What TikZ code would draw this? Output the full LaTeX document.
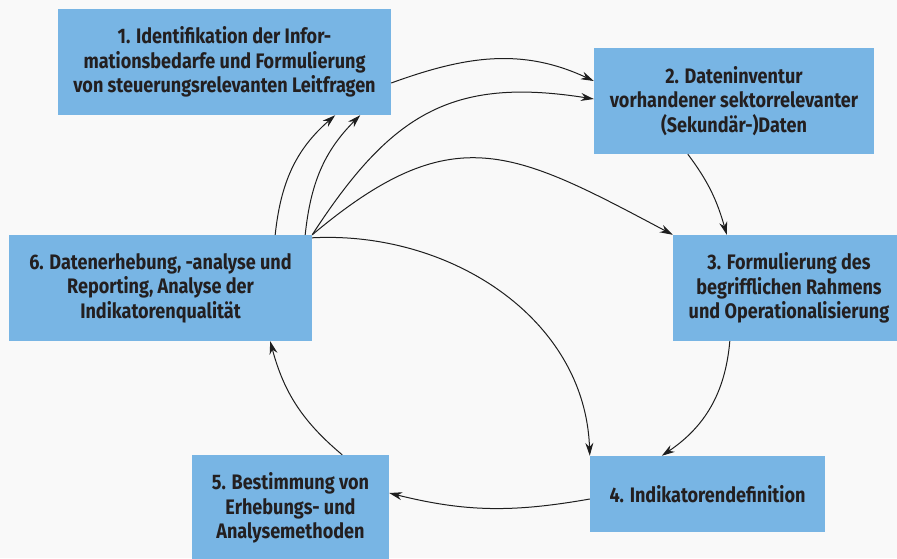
\documentclass[tikz,border=0pt]{standalone}
\usepackage{fontspec}
\usepackage{tikz}
\usepackage[dvipsnames]{xcolor}
\usetikzlibrary{arrows.meta}
\newfontfamily\stagefont{Fira Sans}[FakeStretch=0.86]
\definecolor{stageblue}{RGB}{120,181,228}
\definecolor{stagetext}{RGB}{35,31,32}
\definecolor{pagegray}{RGB}{249,249,249}
\definecolor{flowline}{RGB}{30,30,30}
\tikzset{
  stage/.style={fill=stageblue, text=stagetext, align=center, inner sep=0pt,
    font=\stagefont\bfseries\fontsize{21}{24.5}\selectfont},
  flow/.style={draw=flowline, line width=1pt, -{Stealth[length=13pt,width=8pt]}}
}

\begin{document}
\begin{tikzpicture}[x=1pt,y=1pt]
                \fill[pagegray] (0,0) rectangle (897,-558);
                \useasboundingbox (0,0) rectangle (897,-558);
                \node[stage, minimum width=333pt, minimum height=106pt] (n1) at (224.5,-62) {1. Identifikation der Infor-\\mationsbedarfe und Formulierung\\von steuerungsrelevanten Leitfragen};
                \node[stage, minimum width=280pt, minimum height=106pt] (n2) at (734,-101) {2. Dateninventur\\vorhandener sektorrelevanter\\(Sekundär-)Daten};
                \node[stage, minimum width=232pt, minimum height=106pt] (n3) at (789,-288) {3. Formulierung des\\begrifflichen Rahmens\\und Operationalisierung};
                \node[stage, minimum width=235pt, minimum height=76pt] (n4) at (707.5,-494) {4. Indikatorendefinition};
                \node[stage, minimum width=197pt, minimum height=106pt] (n5) at (290.5,-508) {5. Bestimmung von\\Erhebungs- und\\Analysemethoden};
                \node[stage, minimum width=303pt, minimum height=106pt] (n6) at (160.5,-288) {6. Datenerhebung, -analyse und\\Reporting, Analyse der\\Indikatorenqualität};
                \draw[flow] ([yshift=-21pt]n1.east) to[out=20,in=155] ([yshift=20pt]n2.west);
                \draw[flow] ([xshift=94pt]n2.south west) to[out=-53,in=106] ([xshift=54pt]n3.north west);
                \draw[flow] ([xshift=57pt]n3.south west) to[out=-95,in=34] ([xshift=72pt]n4.north west);
                \draw[flow] ([yshift=-5pt]n4.west) to[out=190,in=-14] ([yshift=15pt]n5.east);
                \draw[flow] ([xshift=-47pt]n5.north east) to[out=140,in=-75] ([xshift=-42pt]n6.south east);
                \draw[flow] ([xshift=-37pt]n6.north east) to[out=84,in=221] ([xshift=-56pt]n1.south east);
                \draw[flow] ([xshift=-7pt]n6.north east) to[out=84,in=225] ([xshift=-31pt]n1.south east);
                \draw[flow] (n6.north east) to[out=57,in=171,looseness=1.18] ([yshift=2pt]n2.west);
                \draw[flow] (n6.north east) to[out=40,in=152,looseness=1.3] (n3.north west);
                \draw[flow] ([yshift=-3pt]n6.north east) to[out=3,in=92] (n4.north west);
            \end{tikzpicture}
\end{document}
